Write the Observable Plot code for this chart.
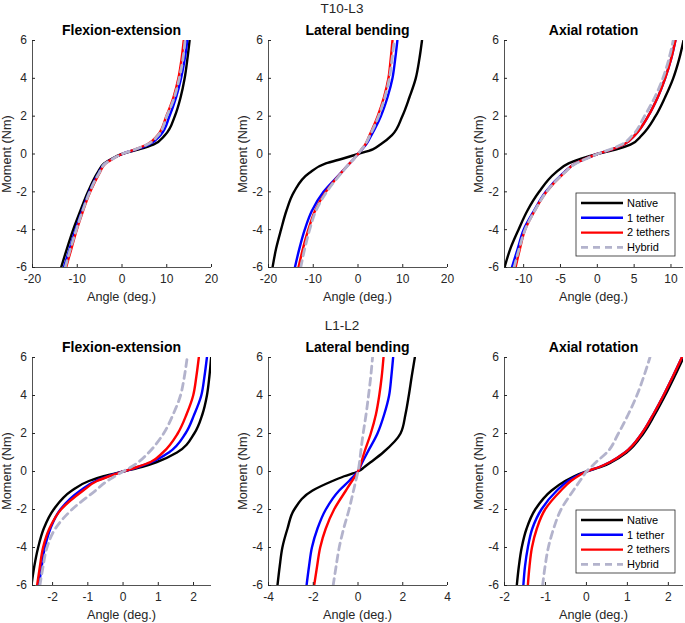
<!DOCTYPE html>
<html>
<head>
<meta charset="utf-8">
<script src="https://cdn.jsdelivr.net/npm/d3@7"></script>
<script src="https://cdn.jsdelivr.net/npm/@observablehq/plot@0.6"></script>
<style>
  body { margin: 0; background: #fff; font-family: "Liberation Sans", Arial, sans-serif; }
  #wrap { position: relative; width: 685px; height: 623px; background: #fff; overflow: hidden; }
  .abs { position: absolute; }
  .t { position: absolute; white-space: nowrap; color: #000; transform: translate(-50%, -50%); }
  .rowtitle { font-size: 13.5px; color: #262626; }
  .ptitle { font-size: 14px; font-weight: bold; }
  .xlab { font-size: 12.7px; color: #262626; }
  .ylab { font-size: 12.7px; color: #262626; transform: translate(-50%, -50%) rotate(-90deg); }
</style>
</head>
<body>
<div id="wrap"></div>
<script>
// ---------------- DATA ----------------
const moments = [-6, -5, -4, -3, -2, -1, -0.5, -0.25, 0, 0.25, 0.5, 1, 2, 3, 4, 5, 6];
const seriesNames = ["Native", "1 tether", "2 tethers", "Hybrid"];
const rowTitles = ["T10-L3", "L1-L2"];
const panelTitles = ["Flexion-extension", "Lateral bending", "Axial rotation"];

// T10-L3 Flexion-extension
const t10FE_native = [-13.6, -12.3, -10.9, -9.3, -7.6, -5.5, -4.0, -2.3, 0, 3.8, 7.0, 9.6, 11.8, 13.1, 14.0, 14.6, 15.1];
const t10FE_t1     = [-13.0, -11.7, -10.4, -8.9, -7.3, -5.2, -3.8, -2.1, 0, 3.2, 6.0, 8.6, 10.6, 12.1, 13.2, 14.0, 14.6];
const t10FE_t2     = [-12.5, -11.3, -10.1, -8.7, -7.1, -5.0, -3.7, -2.0, 0, 3.0, 5.6, 8.0, 9.9, 11.5, 12.6, 13.3, 13.8];
const t10FE_hyb    = [-12.7, -11.5, -10.2, -8.8, -7.2, -5.1, -3.7, -2.0, 0, 3.0, 5.6, 8.1, 10.0, 11.7, 12.8, 13.6, 14.1];
// T10-L3 Lateral bending
const t10LB_native = [-19.1, -18.3, -17.2, -16.0, -14.3, -10.9, -7.2, -3.5, 0, 3.3, 5.0, 7.6, 9.9, 11.5, 12.9, 13.7, 14.3];
const t10LB_t1     = [-14.1, -13.1, -11.9, -10.3, -7.7, -3.8, -1.9, -0.9, 0, 0.9, 1.8, 3.0, 5.1, 6.6, 7.7, 8.3, 8.8];
const t10LB_t2     = [-13.3, -12.3, -11.1, -9.6, -7.2, -3.8, -1.9, -0.9, 0, 0.8, 1.6, 2.6, 4.4, 5.8, 6.8, 7.3, 7.7];
const t10LB_hyb    = [-12.8, -11.9, -10.8, -9.4, -7.0, -3.7, -1.9, -0.9, 0, 0.8, 1.6, 2.7, 4.6, 6.0, 7.0, 7.6, 8.1];
// T10-L3 Axial rotation
const t10AR_native = [-12.6, -11.8, -10.7, -9.5, -7.9, -5.7, -3.9, -2.2, 0, 2.6, 4.5, 6.05, 7.9, 9.2, 10.3, 11.1, 11.7];
const t10AR_t1     = [-11.6, -10.8, -10.0, -8.6, -7.0, -4.6, -3.0, -1.6, 0, 2.0, 3.6, 5.1, 6.9, 8.2, 9.2, 10.0, 10.6];
const t10AR_t2     = [-11.1, -10.5, -9.8, -8.5, -6.9, -4.5, -3.0, -1.6, 0, 2.0, 3.6, 5.1, 6.9, 8.2, 9.2, 10.0, 10.6];
const t10AR_hyb    = [-11.3, -10.6, -9.8, -8.5, -6.9, -4.5, -2.9, -1.5, 0, 1.8, 3.3, 4.8, 6.4, 7.8, 8.9, 9.7, 10.3];
// L1-L2 Flexion-extension
const l1FE_native = [-2.6, -2.52, -2.41, -2.25, -1.97, -1.45, -0.97, -0.55, 0, 0.55, 0.96, 1.53, 2.02, 2.25, 2.38, 2.45, 2.5];
const l1FE_t1     = [-2.39, -2.31, -2.22, -2.06, -1.78, -1.21, -0.78, -0.42, 0, 0.45, 0.82, 1.3, 1.77, 2.02, 2.22, 2.31, 2.38];
const l1FE_t2     = [-2.44, -2.36, -2.27, -2.09, -1.76, -1.13, -0.74, -0.40, 0, 0.42, 0.78, 1.13, 1.55, 1.80, 1.99, 2.08, 2.15];
const l1FE_hyb    = [-2.36, -2.27, -2.16, -1.92, -1.45, -0.78, -0.45, -0.23, 0, 0.24, 0.44, 0.73, 1.15, 1.42, 1.63, 1.74, 1.82];
// L1-L2 Lateral bending
const l1LB_native = [-3.6, -3.5, -3.38, -3.15, -2.85, -2.03, -1.14, -0.62, 0, 0.3, 0.58, 1.12, 1.9, 2.12, 2.27, 2.4, 2.54];
const l1LB_t1     = [-2.3, -2.19, -2.06, -1.81, -1.44, -0.84, -0.4, -0.2, 0, 0.1, 0.2, 0.42, 0.87, 1.17, 1.39, 1.49, 1.57];
const l1LB_t2     = [-1.96, -1.83, -1.69, -1.44, -1.07, -0.54, -0.27, -0.13, 0, 0.08, 0.15, 0.28, 0.57, 0.8, 0.95, 1.06, 1.14];
const l1LB_hyb    = [-1.11, -0.98, -0.84, -0.64, -0.4, -0.2, -0.1, -0.05, 0, 0.04, 0.07, 0.12, 0.23, 0.36, 0.47, 0.57, 0.65];
// L1-L2 Axial rotation
const l1AR_native = [-1.7, -1.65, -1.58, -1.46, -1.25, -0.85, -0.52, -0.3, 0, 0.37, 0.62, 0.98, 1.39, 1.67, 1.92, 2.15, 2.37];
const l1AR_t1     = [-1.54, -1.5, -1.43, -1.32, -1.1, -0.72, -0.45, -0.25, 0, 0.33, 0.58, 0.94, 1.35, 1.63, 1.88, 2.11, 2.33];
const l1AR_t2     = [-1.43, -1.39, -1.33, -1.21, -1.01, -0.62, -0.38, -0.21, 0, 0.33, 0.58, 0.94, 1.35, 1.63, 1.88, 2.11, 2.33];
const l1AR_hyb    = [-1.07, -1.01, -0.93, -0.8, -0.62, -0.32, -0.16, -0.08, 0, 0.12, 0.24, 0.5, 0.78, 1.02, 1.23, 1.4, 1.55];

// x-axis domains and ticks
const xDomains = [[-20, 20], [-20, 20], [-12.6, 11.7], [-2.57, 2.51], [-4, 4], [-2, 2.37]];
const xTicks = [[-20, -10, 0, 10, 20], [-20, -10, 0, 10, 20], [-10, -5, 0, 5, 10], [-2, -1, 0, 1, 2], [-4, -2, 0, 2, 4], [-2, -1, 0, 1, 2]];
const yTicks = [-6, -4, -2, 0, 2, 4, 6];

const panelSeries = [
  [t10FE_native, t10FE_t1, t10FE_t2, t10FE_hyb],
  [t10LB_native, t10LB_t1, t10LB_t2, t10LB_hyb],
  [t10AR_native, t10AR_t1, t10AR_t2, t10AR_hyb],
  [l1FE_native, l1FE_t1, l1FE_t2, l1FE_hyb],
  [l1LB_native, l1LB_t1, l1LB_t2, l1LB_hyb],
  [l1AR_native, l1AR_t1, l1AR_t2, l1AR_hyb]
];

// ---------------- STYLE / LAYOUT ----------------
const colors = {"Native": "#000000", "1 tether": "#0000ff", "2 tethers": "#ff0000", "Hybrid": "#b3b3cc"};
const cols = [
  {left: 0, width: 223, ml: 32, mr: 12},
  {left: 225, width: 230, ml: 43, mr: 8},
  {left: 455, width: 229, ml: 49, mr: 1}
];
const rows = [{top: 15, height: 287}, {top: 332, height: 288}];
const MT = 25, MB = 35;
const axisColor = "#262626";
const fmt = d => String(d);
const solidW = 2.4, dashW = 2.8, dashPattern = "7,5";

const wrap = document.getElementById("wrap");
function addText(cls, txt, x, y) {
  const d = document.createElement("div");
  d.className = "t " + cls;
  d.textContent = txt;
  d.style.left = x + "px";
  d.style.top = y + "px";
  wrap.appendChild(d);
}

panelSeries.forEach((ser, i) => {
  const r = Math.floor(i / 3), c = i % 3;
  const col = cols[c], row = rows[r];
  const data = [];
  ser.forEach((vals, s) => {
    vals.forEach((a, k) => data.push({series: seriesNames[s], angle: a, moment: moments[k]}));
  });
  const lineOpts = (name) => ({
    filter: d => d.series === name,
    x: "angle", y: "moment",
    stroke: colors[name],
    strokeWidth: name === "Hybrid" ? dashW : solidW,
    strokeDasharray: name === "Hybrid" ? dashPattern : null,
    curve: "monotone-y",
    clip: true
  });
  const xd = xDomains[i];
  const plot = Plot.plot({
    width: col.width, height: row.height,
    marginLeft: col.ml, marginRight: col.mr, marginTop: MT, marginBottom: MB,
    style: {fontFamily: "'Liberation Sans', Arial, sans-serif", fontSize: "12px", color: axisColor, background: "white", overflow: "visible"},
    x: {domain: xd, label: null},
    y: {domain: [-6, 6], label: null},
    marks: [
      Plot.line(data, lineOpts("Native")),
      Plot.line(data, lineOpts("1 tether")),
      Plot.line(data, lineOpts("2 tethers")),
      Plot.line(data, lineOpts("Hybrid")),
      Plot.ruleY([-6], {stroke: axisColor, strokeWidth: 0.8}),
      Plot.ruleX([xd[0]], {stroke: axisColor, strokeWidth: 0.8}),
      Plot.axisX({ticks: xTicks[i], tickFormat: fmt, tickSize: -3, tickPadding: 10, stroke: axisColor, fill: axisColor, fontSize: 12, label: null}),
      Plot.axisY({ticks: yTicks, tickFormat: fmt, tickSize: -3, tickPadding: 8.5, stroke: axisColor, fill: axisColor, fontSize: 12, label: null})
    ]
  });
  plot.classList.add("abs");
  plot.style.left = col.left + "px";
  plot.style.top = row.top + "px";
  wrap.appendChild(plot);

  const px0 = col.left + col.ml, px1 = col.left + col.width - col.mr;
  const py0 = row.top + MT, py1 = row.top + row.height - MB;
  addText("ptitle", panelTitles[c], (px0 + px1) / 2, py0 - 10);
  addText("xlab", "Angle (deg.)", (px0 + px1) / 2, py1 + 30);
  addText("ylab", "Moment (Nm)", px0 - 25, (py0 + py1) / 2);

  if (c === 2) {
    // legend
    const lx = 576, lw = 99, ly = r === 0 ? 193 : 510, lh = 63;
    const svgNS = "http://www.w3.org/2000/svg";
    const lg = document.createElementNS(svgNS, "svg");
    lg.setAttribute("width", lw + 2); lg.setAttribute("height", lh + 2);
    lg.setAttribute("class", "abs");
    lg.style.left = (lx - 1) + "px"; lg.style.top = (ly - 1) + "px";
    const rect = document.createElementNS(svgNS, "rect");
    rect.setAttribute("x", 1); rect.setAttribute("y", 1);
    rect.setAttribute("width", lw); rect.setAttribute("height", lh);
    rect.setAttribute("fill", "white"); rect.setAttribute("stroke", "#262626"); rect.setAttribute("stroke-width", 0.8);
    lg.appendChild(rect);
    seriesNames.forEach((name, k) => {
      const yy = 1 + 10 + k * 14.8;
      const ln = document.createElementNS(svgNS, "line");
      ln.setAttribute("x1", 6); ln.setAttribute("x2", 48);
      ln.setAttribute("y1", yy); ln.setAttribute("y2", yy);
      ln.setAttribute("stroke", colors[name]);
      ln.setAttribute("stroke-width", name === "Hybrid" ? dashW : solidW);
      if (name === "Hybrid") ln.setAttribute("stroke-dasharray", dashPattern);
      lg.appendChild(ln);
      const tx = document.createElementNS(svgNS, "text");
      tx.setAttribute("x", 52); tx.setAttribute("y", yy);
      tx.setAttribute("dy", "0.35em");
      tx.setAttribute("font-size", "11px");
      tx.setAttribute("font-family", "'Liberation Sans', Arial, sans-serif");
      tx.setAttribute("fill", "#000");
      tx.textContent = name;
      lg.appendChild(tx);
    });
    wrap.appendChild(lg);
  }
});

addText("rowtitle", rowTitles[0], 342, 8);
addText("rowtitle", rowTitles[1], 342, 325);
</script>
</body>
</html>
